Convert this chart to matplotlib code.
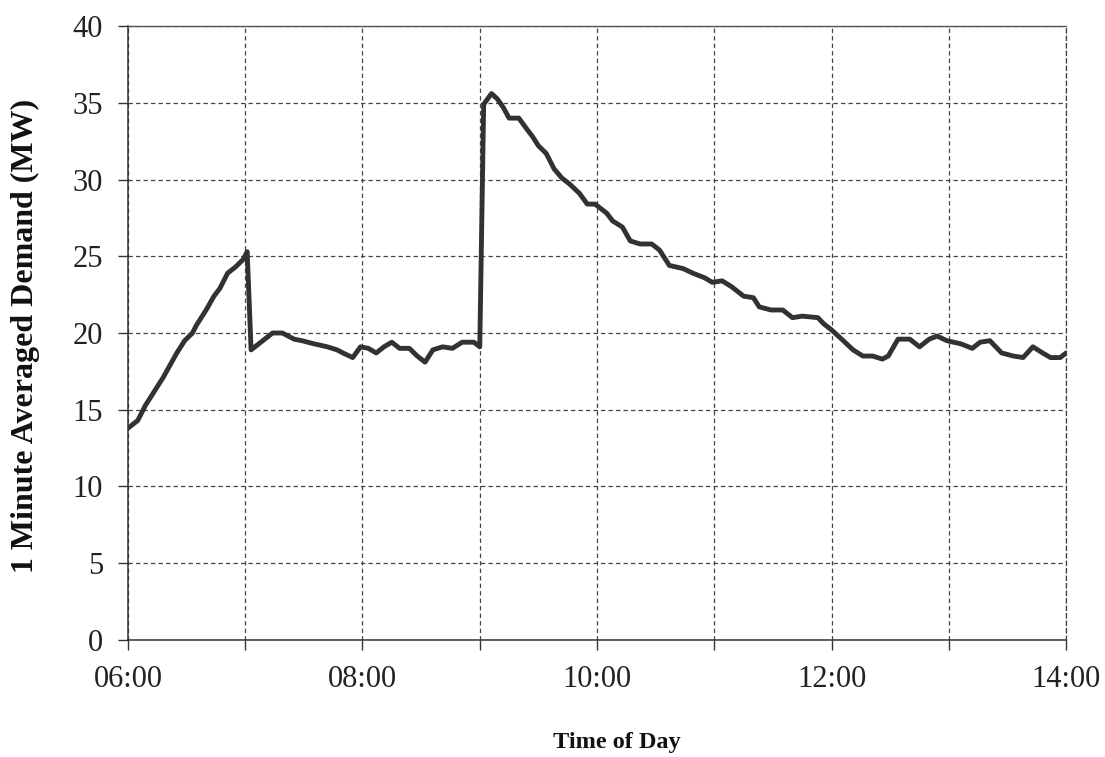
import matplotlib
matplotlib.use("Agg")
import matplotlib.pyplot as plt
from matplotlib.ticker import MultipleLocator, FixedLocator, FixedFormatter

# Minutes after 06:00 and 1-minute averaged demand (MW)
minutes = [0, 5, 9, 13, 18, 25, 29, 33, 35, 40, 44, 47, 51, 55, 59, 61, 63,
           68, 74, 79, 85, 89, 95, 102, 107, 110, 115, 119, 123, 127, 131, 135,
           139, 144, 148, 152, 156, 161, 166, 171, 177, 180, 182, 186, 189, 192,
           195, 200, 204, 207, 210, 214, 218, 222, 226, 231, 235, 239, 245, 248,
           253, 257, 262, 268, 272, 277, 284, 289, 295, 299, 304, 309, 315, 320,
           323, 329, 335, 340, 345, 353, 356, 360, 366, 371, 376, 381, 386, 389,
           394, 400, 405, 410, 414, 419, 426, 432, 436, 441, 447, 453, 458, 463,
           468, 472, 477, 480]
demand = [13.8, 14.3, 15.3, 16.1, 17.1, 18.7, 19.5, 20.0, 20.5, 21.5, 22.4, 22.9,
          23.9, 24.3, 24.8, 25.3, 18.9,
          19.4, 20.0, 20.0, 19.6, 19.5, 19.3, 19.1, 18.9, 18.7, 18.4, 19.1, 19.0,
          18.7, 19.1, 19.4,
          19.0, 19.0, 18.5, 18.1, 18.9, 19.1, 19.0, 19.4, 19.4, 19.1, 34.9, 35.6,
          35.25, 34.7,
          34.0, 34.0, 33.3, 32.8, 32.2, 31.7, 30.7, 30.1, 29.7, 29.1, 28.4, 28.4,
          27.8, 27.3,
          26.9, 26.0, 25.8, 25.8, 25.4, 24.4, 24.2, 23.9, 23.6, 23.3, 23.4, 23.0,
          22.4, 22.3,
          21.7, 21.5, 21.5, 21.0, 21.1, 21.0, 20.6, 20.2, 19.5, 18.9, 18.5, 18.5,
          18.3, 18.5,
          19.6, 19.6, 19.1, 19.6, 19.8, 19.5, 19.3, 19.0, 19.4, 19.5, 18.7, 18.5,
          18.4, 19.1,
          18.7, 18.4, 18.4, 18.7]

x_tick_pos = [6, 8, 10, 12, 14]
x_tick_labels = ["06:00", "08:00", "10:00", "12:00", "14:00"]
y_ticks = [0, 5, 10, 15, 20, 25, 30, 35, 40]

hours = [6 + m / 60 for m in minutes]

plt.rcParams["font.family"] = ["Liberation Serif", "DejaVu Serif"]

fig = plt.figure(figsize=(11.05, 7.57), dpi=100)
ax = fig.add_axes([0.1158, 0.1546, 0.849, 0.811])

ax.plot(hours, demand, color="#323232", linewidth=3.5,
        solid_joinstyle="round", solid_capstyle="round", zorder=3)

ax.set_xlim(6, 14)
ax.set_ylim(0, 40)

ax.xaxis.set_major_locator(FixedLocator(x_tick_pos))
ax.xaxis.set_major_formatter(FixedFormatter(x_tick_labels))
ax.xaxis.set_minor_locator(MultipleLocator(1))
ax.yaxis.set_major_locator(FixedLocator(y_ticks))

dash = (0, (3.5, 2.5))
grid_kw = dict(color="#444444", linestyle=dash, linewidth=0.9)
ax.grid(True, which="both", axis="x", **grid_kw)
ax.grid(True, which="major", axis="y", **grid_kw)
ax.set_axisbelow(True)

ax.tick_params(axis="both", which="both", direction="out", length=7,
               width=1.0, color="#333333", labelsize=22, labelcolor="#222222")
ax.tick_params(axis="x", which="major", pad=11)
ax.tick_params(axis="y", which="major", pad=11)

for side in ["left", "bottom"]:
    ax.spines[side].set_color("#333333")
    ax.spines[side].set_linewidth(1.1)
ax.spines["top"].set_color("#555555")
ax.spines["top"].set_linewidth(1.0)
ax.spines["right"].set_color("#444444")
ax.spines["right"].set_linewidth(0.9)
ax.spines["right"].set_linestyle(dash)

ax.set_xlabel("Time of Day", fontsize=17.5, fontweight="bold", color="#111111")
ax.set_ylabel("1 Minute Averaged Demand (MW)", fontsize=23, fontweight="bold",
              color="#111111")
ax.xaxis.set_label_coords(0.521, -0.150)
ax.yaxis.set_label_coords(-0.094, 0.495)

fig.savefig("out.png", dpi=100)
